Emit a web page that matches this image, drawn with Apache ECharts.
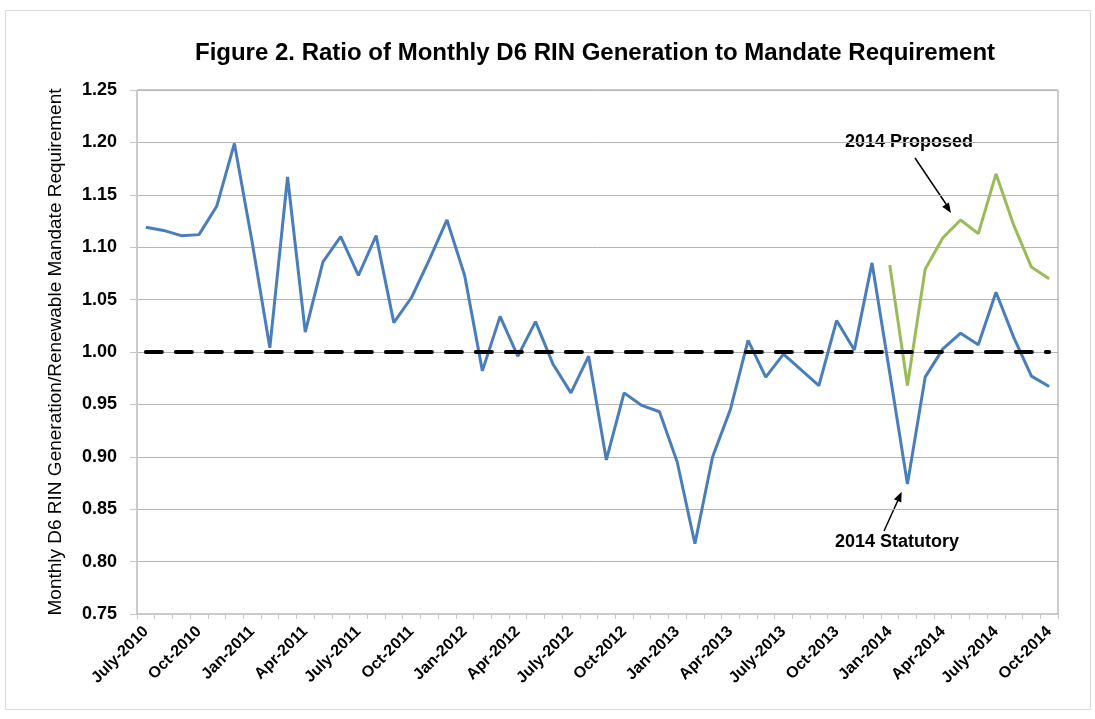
<!DOCTYPE html>
<html>
<head>
<meta charset="utf-8">
<script src="https://cdn.jsdelivr.net/npm/echarts@6/dist/echarts.min.js"></script>
<style>
  html, body { margin: 0; padding: 0; background: #fff; }
  #frame { position: absolute; left: 5px; top: 10px; width: 1084px; height: 698px; border: 1px solid #d9d9d9; }
  #chart { width: 1095px; height: 719px; position: absolute; left: 0; top: 0; }
</style>
</head>
<body>
<div id="frame"></div>
<div id="chart"></div>
<script>
// months July-2010 .. Oct-2014
const monthNames = ['Jan', 'Feb', 'Mar', 'Apr', 'May', 'June', 'July', 'Aug', 'Sep', 'Oct', 'Nov', 'Dec']
const categories = []
for (let y = 2010; y <= 2014; y++) {
  for (let m = 0; m < 12; m++) {
    if (y === 2010 && m < 6) continue
    if (y === 2014 && m > 9) continue
    categories.push(monthNames[m] + '-' + y)
  }
}

// 2014 Statutory (blue)
const statutory = [
  1.119, 1.116, 1.111, 1.112, 1.139, 1.199, 1.105, 1.004, 1.167, 1.019,
  1.086, 1.110, 1.073, 1.111, 1.028, 1.052, 1.088, 1.126, 1.073, 0.982,
  1.034, 0.996, 1.029, 0.988, 0.961, 0.996, 0.897, 0.961, 0.949, 0.943,
  0.895, 0.817, 0.900, 0.945, 1.011, 0.976, 0.998, 0.983, 0.968, 1.030,
  1.002, 1.085, 0.980, 0.874, 0.976, 1.003, 1.018, 1.007, 1.057, 1.014,
  0.977, 0.967
]

// 2014 Proposed (green), only from Jan-2014
const proposed = [
  null, null, null, null, null, null, null, null, null, null,
  null, null, null, null, null, null, null, null, null, null,
  null, null, null, null, null, null, null, null, null, null,
  null, null, null, null, null, null, null, null, null, null,
  null, null, 1.083, 0.968, 1.079, 1.109, 1.126, 1.113, 1.170, 1.121,
  1.081, 1.070
]

// mandate requirement ratio
const mandate = categories.map(() => 1.0)

const yTicks = { min: 0.75, max: 1.25, interval: 0.05 }

const chart = echarts.init(document.getElementById('chart'))

chart.setOption({
  backgroundColor: 'transparent',
  animation: false,
  title: {
    text: 'Figure 2. Ratio of Monthly D6 RIN Generation to Mandate Requirement',
    left: 590,
    top: 36,
    textAlign: 'center',
    textStyle: { fontFamily: 'Liberation Sans, Arial', fontSize: 24, fontWeight: 'bold', color: '#000' }
  },
  grid: {
    left: 137,
    right: 37,
    top: 90,
    bottom: 105,
    show: true,
    borderColor: '#9a9a9a',
    borderWidth: 1
  },
  xAxis: {
    type: 'category',
    data: categories,
    boundaryGap: true,
    axisLine: { lineStyle: { color: '#c8c8c8', width: 1 } },
    axisTick: { show: true, interval: 0, length: 5, lineStyle: { color: '#c8c8c8' } },
    axisLabel: {
      interval: 2,
      rotate: 45,
      margin: 15,
      color: '#000',
      fontFamily: 'Liberation Sans, Arial',
      fontSize: 16,
      fontWeight: 'bold'
    },
    splitLine: { show: false }
  },
  yAxis: {
    type: 'value',
    min: yTicks.min,
    max: yTicks.max,
    interval: yTicks.interval,
    name: 'Monthly D6 RIN Generation/Renewable Mandate Requirement',
    nameLocation: 'middle',
    nameGap: 72,
    nameTextStyle: { fontFamily: 'Liberation Sans, Arial', fontSize: 19, color: '#000' },
    axisLine: { show: true, lineStyle: { color: '#c8c8c8' } },
    axisTick: { show: true, length: 7, lineStyle: { color: '#c8c8c8' } },
    axisLabel: {
      margin: 20,
      color: '#000',
      fontFamily: 'Liberation Sans, Arial',
      fontSize: 18,
      fontWeight: 'bold',
      formatter: (v) => v.toFixed(2)
    },
    splitLine: { lineStyle: { color: '#b4b4b4', width: 1 } }
  },
  series: [
    {
      name: '2014 Statutory',
      type: 'line',
      data: statutory,
      symbol: 'none',
      lineStyle: { color: '#4a7ebb', width: 3 },
      z: 3
    },
    {
      name: '2014 Proposed',
      type: 'line',
      data: proposed,
      symbol: 'none',
      lineStyle: { color: '#9bbb59', width: 3 },
      z: 3
    },
    {
      name: 'Mandate',
      type: 'line',
      data: mandate,
      symbol: 'none',
      lineStyle: { color: '#000', width: 4, type: [16, 14], cap: 'round' },
      z: 4
    }
  ],
  graphic: [
    {
      type: 'text',
      left: 845, top: 133,
      style: { text: '2014 Proposed', fill: '#000', font: 'bold 18px "Liberation Sans", Arial' }
    },
    {
      type: 'line',
      shape: { x1: 915, y1: 158, x2: 948, y2: 207 },
      style: { stroke: '#000', lineWidth: 1.5 }
    },
    {
      type: 'polygon',
      shape: { points: [[951, 213], [942.2, 206.8], [948.9, 202.4]] },
      style: { fill: '#000' }
    },
    {
      type: 'text',
      left: 835, top: 533,
      style: { text: '2014 Statutory', fill: '#000', font: 'bold 18px "Liberation Sans", Arial' }
    },
    {
      type: 'line',
      shape: { x1: 884, y1: 531, x2: 899, y2: 498 },
      style: { stroke: '#000', lineWidth: 1.5 }
    },
    {
      type: 'polygon',
      shape: { points: [[901.7, 491.7], [901.25, 502.4], [893.95, 499.2]] },
      style: { fill: '#000' }
    }
  ]
})
</script>
</body>
</html>
